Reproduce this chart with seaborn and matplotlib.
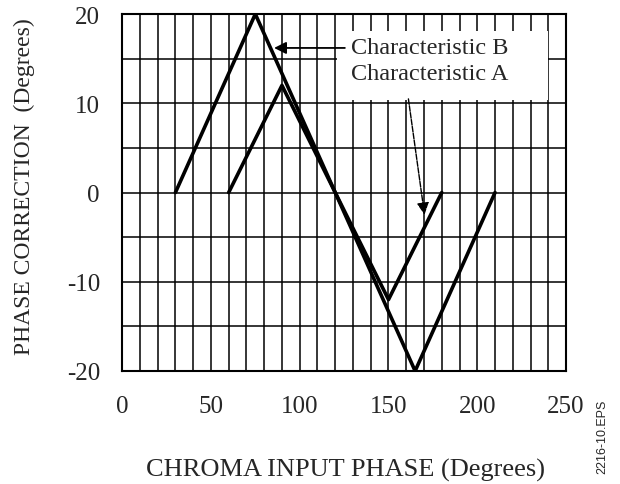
import numpy as np
import matplotlib.pyplot as plt
import seaborn as sns
import pandas as pd

# valores
fase_b = [30, 75, 165, 210]
correcao_b = [0, 20, -20, 0]
fase_a = [60, 90, 150, 180]
correcao_a = [0, 12, -12, 0]
xticks = [0, 50, 100, 150, 200, 250]
yticks = [-20, -10, 0, 10, 20]

df = pd.concat([
    pd.DataFrame({"fase": fase_b, "correcao": correcao_b, "curva": "Characteristic B"}),
    pd.DataFrame({"fase": fase_a, "correcao": correcao_a, "curva": "Characteristic A"}),
])

sns.set_theme(style="white")
plt.rcParams['font.family'] = ['Liberation Serif', 'DejaVu Serif']
plt.rcParams['axes.unicode_minus'] = False

fig = plt.figure(figsize=(6.2, 4.85), dpi=100)
ax = fig.add_axes([0.197, 0.233, 0.716, 0.736])

# grade
for x in range(0, 251, 10):
    ax.axvline(x, color="black", lw=1.1, zorder=1)
for y in range(-20, 21, 5):
    ax.axhline(y, color="black", lw=1.1, zorder=1)

# caixa branca das legendas
ax.add_patch(plt.Rectangle((121, 10.4), 119, 7.7, facecolor="white", edgecolor="none", zorder=2))

sns.lineplot(data=df, x="fase", y="correcao", units="curva", estimator=None,
             sort=False, color="black", lw=2.6, ax=ax, zorder=3)

ax.text(129, 16.3, "Characteristic B", fontsize=17.5, va="center", ha="left", zorder=4)
ax.text(129, 13.3, "Characteristic A", fontsize=17.5, va="center", ha="left", zorder=4)
ax.annotate("", xy=(84, 16.2), xytext=(127, 16.2),
            arrowprops=dict(arrowstyle="-|>", color="black", lw=1.3, mutation_scale=18), zorder=4)
ax.annotate("", xy=(170.5, -2.8), xytext=(161, 10.8),
            arrowprops=dict(arrowstyle="-|>", color="black", lw=1.0, ls=(0, (4, 1)),
                            mutation_scale=18), zorder=4)

ax.set_xlim(0, 250)
ax.set_ylim(-20, 20)
ax.set_xticks(xticks)
ax.set_yticks(yticks)
ax.tick_params(axis="x", length=0, pad=17, labelsize=18)
ax.tick_params(axis="y", length=0, pad=16, labelsize=18)
for s in ax.spines.values():
    s.set_color("black")
    s.set_linewidth(1.5)

ax.set_xlabel("CHROMA INPUT PHASE (Degrees)", fontsize=19)
ax.set_ylabel("PHASE CORRECTION  (Degrees)", fontsize=17)
ax.xaxis.set_label_coords((345 - 122) / 444, -0.275)
ax.xaxis.label.set_va("center")
ax.yaxis.set_label_coords(-0.221, 0.518)
ax.yaxis.label.set_va("center")

fig.text(0.971, 0.099, "2216-10.EPS", rotation=90, fontsize=9,
         family=["Liberation Sans", "DejaVu Sans"], ha="center", va="center")

fig.savefig("out.png", dpi=100, facecolor="white")
